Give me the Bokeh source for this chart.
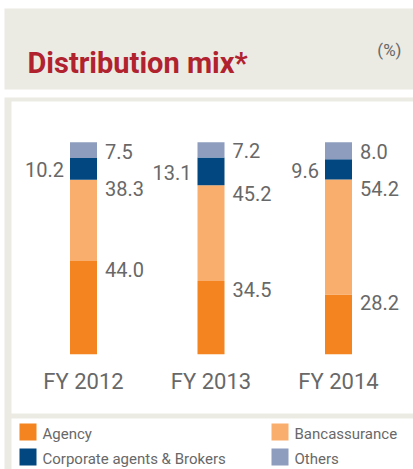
import numpy as np
from bokeh.plotting import figure
from bokeh.models import ColumnDataSource, Label
from bokeh.core.properties import value
from bokeh.embed import file_html
from bokeh.resources import INLINE

# ---- data ----
years = ["FY 2012", "FY 2013", "FY 2014"]
series = ["Agency", "Bancassurance", "Corporate agents & Brokers", "Others"]
agency = [44.0, 34.5, 28.2]
bancassurance = [38.3, 45.2, 54.2]
corporate = [10.2, 13.1, 9.6]
others = [7.5, 7.2, 8.0]
title_text = "Distribution mix*"
unit_text = "(%)"

# ---- style ----
colors = ["#F3841F", "#F9AE6D", "#02477F", "#8E9CBE"]
BEIGE = "#EBEAE3"
RED = "#B1222F"
GRAY = "#686868"
FONT = "Roboto"

W, H = 413, 469
Y0, PPU = 353.7, 2.12      # pixel row of 0 %, pixels per %
X0, PPC = 83.0, 127.5      # pixel column of first category, pixels per category


def dx(px):
    return (px - X0) / PPC


def dy(py):
    return (Y0 - py) / PPU


p = figure(width=W, height=H, x_range=(dx(0), dx(W)), y_range=(dy(H), dy(0)),
           x_axis_type=None, y_axis_type=None, toolbar_location=None,
           output_backend="svg", min_border=0,
           background_fill_color="white", border_fill_color="white",
           outline_line_color=None)
p.grid.visible = False

# beige panels: title panel and chart frame
p.quad(left=[dx(4), dx(4)], right=[dx(W)] * 2,
       top=[dy(8), dy(97)], bottom=[dy(89), dy(H)],
       color=BEIGE, line_color=None)
# white interiors: chart area and legend area
p.quad(left=[dx(11), dx(11)], right=[dx(W)] * 2,
       top=[dy(101), dy(418)], bottom=[dy(413), dy(H)],
       color="white", line_color=None)

xs = list(range(len(years)))
src = ColumnDataSource(dict(x=xs, Agency=agency, Bancassurance=bancassurance,
                            Corporate=corporate, Others=others))
p.vbar_stack(["Agency", "Bancassurance", "Corporate", "Others"], x="x",
             width=27 / PPC, color=colors, line_color=None, source=src)

a = np.array(agency)
b = np.array(bancassurance)
c = np.array(corporate)
o = np.array(others)
xa = np.array(xs, dtype=float)
rx = xa + (13.5 + 8) / PPC
lx = xa - (13.5 + 6) / PPC

lbl = dict(text_font=value(FONT), text_font_size="20px", text_color=GRAY)
# right-hand labels at segment tops
p.text(x=list(rx) * 2, y=list(a) + list(a + b),
       text=[f"{v:.1f}" for v in agency] + [f"{v:.1f}" for v in bancassurance],
       text_align="left", text_baseline="top", y_offset=1, **lbl)
# others label
p.text(x=list(rx), y=list(a + b + c + o / 2), text=[f"{v:.1f}" for v in others],
       text_align="left", text_baseline="middle", y_offset=1, **lbl)
# corporate label (left)
p.text(x=list(lx), y=list(a + b + c / 2), text=[f"{v:.1f}" for v in corporate],
       text_align="right", text_baseline="middle", y_offset=1, **lbl)

# category labels
p.text(x=xs, y=[dy(381)] * len(xs), text=years, text_align="center",
       text_baseline="middle", text_font=value(FONT), text_font_size="22px",
       text_color=GRAY)

# title and unit
p.add_layout(Label(x=dx(27), y=dy(62), text=title_text, text_font=FONT,
                   text_font_size="29px", text_font_style="bold",
                   text_color=RED, text_baseline="alphabetic"))
p.add_layout(Label(x=dx(401), y=dy(49), text=unit_text, text_font=FONT,
                   text_font_size="17px", text_color=GRAY,
                   text_align="right", text_baseline="middle"))

# legend
sq_x = [dx(27.5), dx(279.5), dx(27.5), dx(279.5)]
sq_y = [dy(431.5), dy(431.5), dy(456.5), dy(456.5)]
p.scatter(x=sq_x, y=sq_y, marker="square", size=17, color=colors, line_color=None)
p.text(x=[dx(42), dx(294), dx(42), dx(294)],
       y=[dy(433), dy(433), dy(458), dy(458)], text=series,
       text_align="left", text_baseline="middle", text_font=value(FONT),
       text_font_size="15px", text_color=GRAY)

open("out.html", "w").write(file_html(p, INLINE))
